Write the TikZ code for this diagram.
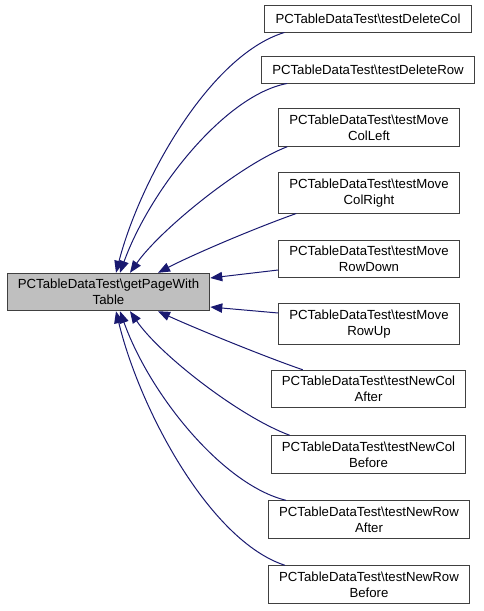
\documentclass[tikz,border=0pt]{standalone}
\usepackage{fontspec}
\setmainfont{Liberation Sans}
\usetikzlibrary{calc,arrows.meta}
\definecolor{edgeblue}{HTML}{191970}
\definecolor{boxgray}{HTML}{BFBFBF}
\tikzset{
	cls/.style={draw=black!75, line width=0.75pt, fill=white, align=center,
		font=\fontsize{9.9pt}{11.8pt}\selectfont,
		inner xsep=8pt, inner ysep=4.5pt, minimum height=20.25pt},
	clsmain/.style={cls, fill=boxgray},
	edge/.style={draw=edgeblue, line width=0.75pt, -{Triangle[length=9pt,width=7pt]}}
}

\begin{document}
\begin{tikzpicture}[x=0.75pt, y=-0.75pt]
		%%%%% START %%%%%
		\useasboundingbox (0, 0) rectangle (484, 611);
		
		\node[clsmain] (getpage) at (108.5, 292) {PCTableDataTest\textbackslash getPageWith\\Table};
		
		\node[cls] (delcol) at (368, 18.5) {PCTableDataTest\textbackslash testDeleteCol};
		\node[cls] (delrow) at (368, 69.5) {PCTableDataTest\textbackslash testDeleteRow};
		\node[cls] (movecolleft) at (369, 127.5) {PCTableDataTest\textbackslash testMove\\ColLeft};
		\node[cls] (movecolright) at (369, 193) {PCTableDataTest\textbackslash testMove\\ColRight};
		\node[cls] (moverowdown) at (369, 259) {PCTableDataTest\textbackslash testMove\\RowDown};
		\node[cls] (moverowup) at (369, 324) {PCTableDataTest\textbackslash testMove\\RowUp};
		\node[cls] (newcolafter) at (368.5, 389) {PCTableDataTest\textbackslash testNewCol\\After};
		\node[cls] (newcolbefore) at (368.5, 454.5) {PCTableDataTest\textbackslash testNewCol\\Before};
		\node[cls] (newrowafter) at (369, 519.5) {PCTableDataTest\textbackslash testNewRow\\After};
		\node[cls] (newrowbefore) at (369, 584.5) {PCTableDataTest\textbackslash testNewRow\\Before};
		
		% callers above
		\draw[edge] ($(delcol.south west)+(20,0)$) .. controls (210, 55) and (140, 180) .. ($(getpage.north)+(7.5,0)$);
		\draw[edge] ($(delrow.south west)+(26,0)$) .. controls (225, 95) and (150, 190) .. ($(getpage.north)+(11.5,0)$);
		\draw[edge] ($(movecolleft.south west)+(9,0)$) .. controls (240, 165) and (160, 230) .. ($(getpage.north)+(21.5,0)$);
		\draw[edge] ($(movecolright.south west)+(18,0)$) .. controls (250, 230) and (190, 256) .. ($(getpage.north)+(49.5,0)$);
		
		% callers at the side
		\draw[edge] ($(moverowdown.west)+(0,11)$) -- ($(getpage.east)+(0,-14)$);
		\draw[edge] ($(moverowup.west)+(0,-11)$) -- ($(getpage.east)+(0,15)$);
		
		% callers below
		\draw[edge] ($(newcolafter.north west)+(32,0)$) .. controls (260, 355) and (190, 326) .. ($(getpage.south)+(49.5,0)$);
		\draw[edge] ($(newcolbefore.north west)+(19,0)$) .. controls (240, 417) and (160, 355) .. ($(getpage.south)+(21.5,0)$);
		\draw[edge] ($(newrowafter.north west)+(18,0)$) .. controls (223, 485) and (150, 395) .. ($(getpage.south)+(11.5,0)$);
		\draw[edge] ($(newrowbefore.north west)+(17,0)$) .. controls (210, 541) and (140, 410) .. ($(getpage.south)+(7.5,0)$);
		
		%%%%% END %%%%%
\end{tikzpicture}
\end{document}
